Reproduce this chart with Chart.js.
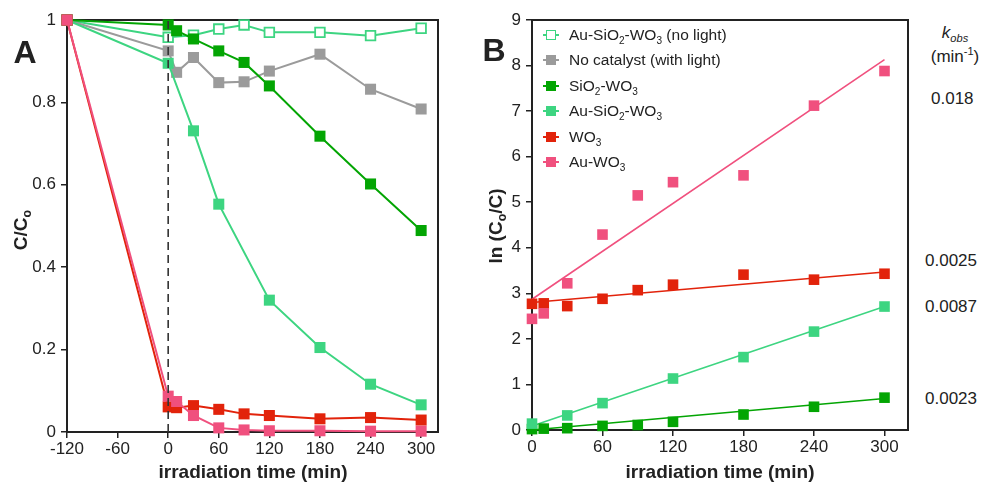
<!DOCTYPE html>
<html>
<head>
<meta charset="utf-8">
<script src="https://cdn.jsdelivr.net/npm/chart.js@4.4.1/dist/chart.umd.min.js"></script>
<style>
  body { margin: 0; background: #fff; font-family: "Liberation Sans", Arial, sans-serif; color: #222; }
  #wrap { position: relative; width: 983px; height: 484px; overflow: hidden; background: #fff; }
  .box { position: absolute; top: 0; height: 484px; }
  .t { position: absolute; white-space: nowrap; line-height: 1; transform: translate(-50%, -50%); }
  .rot { transform: translate(-50%, -50%) rotate(-90deg); }
  .lbl { font-weight: bold; font-size: 32px; }
  .ttl { font-weight: bold; font-size: 19px; }
  .k { position: absolute; white-space: nowrap; line-height: 1; font-size: 17px; }
  sub, sup { font-size: 65%; line-height: 0; }
  .leg { position: absolute; left: 543px; font-size: 15.5px; line-height: 16px; white-space: nowrap; }
  .leg .mk { position: absolute; left: 0; top: 0; width: 16px; height: 16px; }
  .leg .ln { position: absolute; left: 0; top: 7px; width: 16px; height: 2px; }
  .leg .sq { position: absolute; left: 3px; top: 3px; width: 10px; height: 10px; box-sizing: border-box; }
  .leg .tx { position: absolute; left: 26px; top: 0; }
</style>
</head>
<body>
<div id="wrap">
  <div class="box" style="left:0;width:460px"><canvas id="chartA"></canvas></div>
  <div class="box" style="left:470px;width:450px"><canvas id="chartB"></canvas></div>

  <div class="t lbl" style="left:25px;top:52px">A</div>
  <div class="t lbl" style="left:494px;top:50px">B</div>

  <div class="t ttl rot" style="left:20px;top:230px">C/C<sub>o</sub></div>
  <div class="t ttl rot" style="left:495px;top:226px">ln (C<sub>o</sub>/C)</div>
  <div class="t ttl" style="left:253px;top:471px">irradiation time (min)</div>
  <div class="t ttl" style="left:720px;top:471px">irradiation time (min)</div>

  <div class="t" style="left:955px;top:32px;font-size:17px;font-style:italic">k<sub>obs</sub></div>
  <div class="t" style="left:955px;top:56px;font-size:17px">(min<sup>-1</sup>)</div>
  <div id="kvals"></div>
  <div id="legend"></div>
</div>

<script>
// panel A: C/Co vs time
const timesA = [-120, 0, 10, 30, 60, 90, 120, 180, 240, 300];
const noLightA = [1, 0.958, null, 0.963, 0.978, 0.988, 0.970, 0.970, 0.962, 0.980];
const noCatA = [1, 0.925, 0.873, 0.909, 0.848, 0.850, 0.876, 0.917, 0.832, 0.784];
const sio2A = [1, 0.988, 0.974, 0.954, 0.925, 0.897, 0.840, 0.718, 0.602, 0.489];
const auSio2A = [1, 0.895, null, 0.731, 0.553, null, 0.320, 0.205, 0.116, 0.066];
const wo3A = [1, 0.061, 0.059, 0.064, 0.055, 0.044, 0.040, 0.032, 0.035, 0.029];
const auWo3A = [1, 0.087, 0.074, 0.040, 0.010, 0.005, 0.003, 0.003, 0.002, 0.002];
const lightOnX = [0, 0];
const lightOnY = [0, 1];
const xTicksA = [-120, -60, 0, 60, 120, 180, 240, 300];
const yTicksA = [0, 0.2, 0.4, 0.6, 0.8, 1];

// panel B: ln(Co/C) vs time, with linear fits
const timesB = [0, 10, 30, 60, 90, 120, 180, 240, 300];
const auWo3B = [2.44, 2.56, 3.22, 4.29, 5.15, 5.44, 5.59, 7.12, 7.88];
const wo3B = [2.77, 2.78, 2.72, 2.88, 3.07, 3.19, 3.41, 3.30, 3.43];
const auSio2B = [0.14, null, 0.32, 0.59, null, 1.13, 1.60, 2.16, 2.71];
const sio2B = [0.02, 0.03, 0.04, 0.09, 0.11, 0.18, 0.34, 0.51, 0.71];
const fitX = [0, 300];
const auWo3Fit = [2.87, 8.13];
const wo3Fit = [2.80, 3.47];
const auSio2Fit = [0.09, 2.71];
const sio2Fit = [0.0, 0.69];
const xTicksB = [0, 60, 120, 180, 240, 300];
const yTicksB = [0, 1, 2, 3, 4, 5, 6, 7, 8, 9];

const kLabels = ['0.018', '0.0025', '0.0087', '0.0023'];

const C = {
  noLight: '#3dd581', noCat: '#9b9b9b', sio2: '#03a503',
  auSio2: '#3dd581', wo3: '#e2230b', auWo3: '#f0507e', ink: '#222'
};

const legendItems = [
  { html: 'Au-SiO<sub>2</sub>-WO<sub>3</sub> (no light)', color: C.noLight, hollow: true },
  { html: 'No catalyst (with light)', color: C.noCat },
  { html: 'SiO<sub>2</sub>-WO<sub>3</sub>', color: C.sio2 },
  { html: 'Au-SiO<sub>2</sub>-WO<sub>3</sub>', color: C.auSio2 },
  { html: 'WO<sub>3</sub>', color: C.wo3 },
  { html: 'Au-WO<sub>3</sub>', color: C.auWo3 },
];

const pts = (xs, ys) => xs.map((x, i) => ({ x, y: ys[i] }));

const frame = {
  id: 'frame',
  beforeDatasetsDraw(chart) {
    const { ctx, chartArea: a } = chart;
    ctx.save();
    ctx.strokeStyle = C.ink;
    ctx.lineWidth = 2;
    ctx.strokeRect(a.left, a.top, a.right - a.left, a.bottom - a.top);
    ctx.restore();
  }
};

function scale(min, max, ticks, size, horizontal) {
  return {
    type: 'linear', min, max,
    afterBuildTicks: s => { s.ticks = ticks.map(v => ({ value: v })); },
    afterFit: s => { if (horizontal) s.height = size; else s.width = size; },
    grid: { drawOnChartArea: false, drawTicks: true, tickLength: 6, color: C.ink, lineWidth: 1.5 },
    border: { display: true, color: C.ink, width: 2 },
    ticks: { padding: horizontal ? 1 : 5, color: C.ink, font: { size: 17, family: 'Liberation Sans' }, callback: v => String(v) }
  };
}

function lineSet(data, color, opts = {}) {
  return Object.assign({
    data, borderColor: color, backgroundColor: color,
    borderWidth: 2, pointStyle: 'rect', pointRadius: 7.8, pointHoverRadius: 7.8,
    pointBorderWidth: 0, pointBackgroundColor: color, spanGaps: true, clip: false, tension: 0
  }, opts);
}

function baseOptions(pad, xs, ys) {
  return {
    responsive: false, animation: false, maintainAspectRatio: false,
    layout: { padding: pad },
    plugins: { legend: { display: false }, tooltip: { enabled: false } },
    scales: { x: xs, y: ys }
  };
}

function makeCanvas(id, w) {
  const c = document.getElementById(id);
  c.width = w; c.height = 484;
  c.style.width = w + 'px'; c.style.height = '484px';
  return c;
}

new Chart(makeCanvas('chartA', 460), {
  type: 'line',
  data: {
    datasets: [
      { data: pts(lightOnX, lightOnY), borderColor: '#333', borderWidth: 1.6, borderDash: [8, 5], pointRadius: 0, clip: false },
      lineSet(pts(timesA, auWo3A), C.auWo3),
      lineSet(pts(timesA, wo3A), C.wo3),
      lineSet(pts(timesA, auSio2A), C.auSio2),
      lineSet(pts(timesA, sio2A), C.sio2),
      lineSet(pts(timesA, noCatA), C.noCat),
      lineSet(pts(timesA, noLightA), C.noLight, { pointBackgroundColor: '#fff', pointBorderColor: C.noLight, pointBorderWidth: 1.8, pointRadius: 6.8 }),
    ]
  },
  options: baseOptions({ top: 20, right: 22, left: 0, bottom: 0 },
    scale(-120, 320, xTicksA, 52, true),
    scale(0, 1, yTicksA, 67, false)),
  plugins: [frame]
});

const scatterSet = (ys, color) => lineSet(pts(timesB, ys), color, { showLine: false, pointRadius: 7.5 });
const fitSet = (ys, color) => ({ data: pts(fitX, ys), borderColor: color, borderWidth: 1.6, pointRadius: 0, clip: false });

new Chart(makeCanvas('chartB', 450), {
  type: 'line',
  data: {
    datasets: [
      scatterSet(auWo3B, C.auWo3),
      scatterSet(wo3B, C.wo3),
      scatterSet(auSio2B, C.auSio2),
      scatterSet(sio2B, C.sio2),
      fitSet(auWo3Fit, C.auWo3),
      fitSet(wo3Fit, C.wo3),
      fitSet(auSio2Fit, C.auSio2),
      fitSet(sio2Fit, C.sio2),
    ]
  },
  options: baseOptions({ top: 20, right: 12, left: 0, bottom: 0 },
    scale(0, 320, xTicksB, 54, true),
    scale(0, 9, yTicksB, 62, false)),
  plugins: [frame]
});

// legend inside panel B
const legend = document.getElementById('legend');
legendItems.forEach((it, i) => {
  const row = document.createElement('div');
  row.className = 'leg';
  row.style.top = (27 + i * 25.4) + 'px';
  const sq = it.hollow
    ? `border:1.5px solid ${it.color};background:#fff`
    : `background:${it.color}`;
  row.innerHTML = `<span class="mk"><span class="ln" style="background:${it.color}"></span>` +
    `<span class="sq" style="${sq}"></span></span><span class="tx">${it.html}</span>`;
  legend.appendChild(row);
});

// k_obs values to the right of panel B
const kPos = [[931, 98], [925, 260], [925, 306], [925, 398]];
const kv = document.getElementById('kvals');
kLabels.forEach((s, i) => {
  const d = document.createElement('div');
  d.className = 'k';
  d.style.left = kPos[i][0] + 'px';
  d.style.top = (kPos[i][1] - 8) + 'px';
  d.textContent = s;
  kv.appendChild(d);
});
</script>
</body>
</html>
